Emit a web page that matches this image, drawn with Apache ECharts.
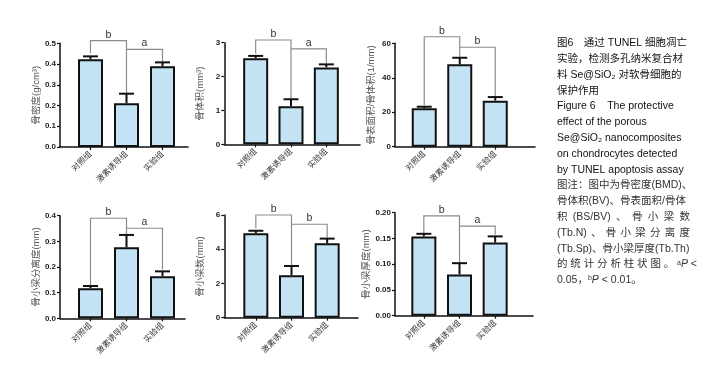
<!DOCTYPE html>
<html>
<head>
<meta charset="utf-8">
<script src="https://cdn.jsdelivr.net/npm/echarts@6/dist/echarts.min.js"></script>
<style>
html, body { margin: 0; padding: 0; background: #fff; }
#chart { width: 723px; height: 369px; }
</style>
</head>
<body>
<div id="chart"></div>
<script>
// 组别
const groups = ["对照组", "激素诱导组", "实验组"];

// 均值与误差
const bmdMean = [0.423, 0.211, 0.389];
const bmdErr = [0.014, 0.046, 0.019];
const bvMean = [2.54, 1.12, 2.27];
const bvErr = [0.07, 0.21, 0.09];
const bsbvMean = [22.3, 47.8, 26.7];
const bsbvErr = [0.9, 3.8, 2.1];
const tbspMean = [0.117, 0.277, 0.164];
const tbspErr = [0.009, 0.048, 0.019];
const tbnMean = [4.93, 2.48, 4.35];
const tbnErr = [0.15, 0.54, 0.27];
const tbthMean = [0.154, 0.080, 0.142];
const tbthErr = [0.005, 0.022, 0.012];

// 显著性标记: [起始组, 结束组, 横线高度, 左竖线下端, 右竖线下端, 字母]
const bmdBrackets = [[0, 1, 0.513, 0.452, 0.257, "b"], [1, 2, 0.471, null, 0.412, "a"]];
const bvBrackets = [[0, 1, 3.08, 2.68, 1.34, "b"], [1, 2, 2.82, null, 2.39, "a"]];
const bsbvBrackets = [[0, 1, 63.8, 24.2, 51.6, "b"], [1, 2, 57.7, null, 29.4, "b"]];
const tbspBrackets = [[0, 1, 0.39, 0.13, 0.325, "b"], [1, 2, 0.351, null, 0.19, "a"]];
const tbnBrackets = [[0, 1, 6.0, 5.22, 3.02, "b"], [1, 2, 5.46, null, 4.67, "b"]];
const tbthBrackets = [[0, 1, 0.194, 0.160, 0.102, "b"], [1, 2, 0.174, null, 0.157, "a"]];

// y轴标题与刻度
const yNames = ["骨密度(g/cm³)", "骨体积(mm³)", "骨表面积/骨体积(1/mm)", "骨小梁分离度(mm)", "骨小梁数(mm)", "骨小梁厚度(mm)"];
const yMaxes = [0.5, 3, 60, 0.4, 6, 0.2];
const yIntervals = [0.1, 1, 20, 0.1, 2, 0.05];
const yDigits = [1, 0, 0, 1, 0, 2];

// 右侧图注文字 (数组 = 两端对齐的行)
const captionLines = [
    "图6　通过 TUNEL 细胞凋亡",
    "实验，检测多孔纳米复合材",
    "料 Se@SiO₂ 对软骨细胞的",
    "保护作用",
    "Figure 6    The protective",
    "effect of the porous",
    "Se@SiO₂ nanocomposites",
    "on chondrocytes detected",
    "by TUNEL apoptosis assay",
    "图注：图中为骨密度(BMD)、",
    "骨体积(BV)、骨表面积/骨体",
    ["积", "(BS/BV)", "、", "骨", "小", "梁", "数"],
    ["(Tb.N)", "、", "骨", "小", "梁", "分", "离", "度"],
    "(Tb.Sp)、骨小梁厚度(Tb.Th)",
    ["的", "统", "计", "分", "析", "柱", "状", "图", "。", "{s|a}{i|P}", "<"],
    "{t|0.05，}{s|b}{i|P}{t| < 0.01。}"
];
// 两端对齐行的右端
const justifyEnd = { 11: 690, 12: 690, 14: 697 };

const means = [bmdMean, bvMean, bsbvMean, tbspMean, tbnMean, tbthMean];
const errs = [bmdErr, bvErr, bsbvErr, tbspErr, tbnErr, tbthErr];
const brackets = [bmdBrackets, bvBrackets, bsbvBrackets, tbspBrackets, tbnBrackets, tbthBrackets];

// 每个小图的版面: y轴位置, 柱区左右, x轴终点, 上下
const layout = [
    { axisX: 60, bandL: 72.5, bandR: 180.5, axisEnd: 188, top: 43.3, bottom: 147 },
    { axisX: 224.3, bandL: 238, bandR: 344, axisEnd: 360, top: 42.7, bottom: 144.3 },
    { axisX: 395, bandL: 406.5, bandR: 513, axisEnd: 535, top: 43.3, bottom: 146.7 },
    { axisX: 60, bandL: 72.5, bandR: 180.5, axisEnd: 185, top: 215.7, bottom: 318.3 },
    { axisX: 224.3, bandL: 238, bandR: 345, axisEnd: 358, top: 215, bottom: 317.7 },
    { axisX: 395, bandL: 406, bandR: 513, axisEnd: 533, top: 212.7, bottom: 315.7 }
];

const FONT = '"Liberation Sans", Arial, "Noto Sans CJK SC", sans-serif';
const CAP_SIZE = 10.5;
const chart = echarts.init(document.getElementById("chart"), null, { renderer: "canvas" });

const grid = [], xAxis = [], yAxis = [], series = [];

layout.forEach((L, k) => {
    const h = L.bottom - L.top;
    // 柱子所在的网格
    grid.push({ left: L.bandL, top: L.top, width: L.bandR - L.bandL, height: h, containLabel: false, outerBoundsMode: "none" });
    // 只画x轴线的网格
    grid.push({ left: L.axisX, top: L.top, width: L.axisEnd - L.axisX, height: h, containLabel: false, outerBoundsMode: "none" });

    xAxis.push({
        type: "category",
        gridIndex: 2 * k,
        data: groups,
        axisLine: { show: false },
        axisTick: { show: true, alignWithLabel: true, length: 3, lineStyle: { color: "#111", width: 1.2 } },
        axisLabel: { rotate: 45, fontSize: 8, color: "#333", margin: 6, fontFamily: FONT, interval: 0 },
        splitLine: { show: false }
    });
    xAxis.push({
        type: "value",
        gridIndex: 2 * k + 1,
        min: 0, max: 1,
        axisLine: { show: true, lineStyle: { color: "#111", width: 1.5 } },
        axisTick: { show: false },
        axisLabel: { show: false },
        splitLine: { show: false }
    });

    const digits = yDigits[k];
    yAxis.push({
        type: "value",
        gridIndex: 2 * k,
        min: 0,
        max: yMaxes[k],
        interval: yIntervals[k],
        offset: L.bandL - L.axisX,
        name: yNames[k],
        nameLocation: "middle",
        nameGap: 19,
        nameTextStyle: { fontSize: 9.5, color: "#555", fontFamily: FONT },
        axisLine: { show: true, lineStyle: { color: "#111", width: 1.5 } },
        axisTick: { show: true, length: 3, lineStyle: { color: "#111", width: 1.2 } },
        axisLabel: {
            fontSize: 8, fontWeight: "bold", color: "#222", margin: 4, fontFamily: FONT,
            formatter: v => v.toFixed(digits)
        },
        splitLine: { show: false }
    });
    yAxis.push({ type: "value", gridIndex: 2 * k + 1, show: false, min: 0, max: 1 });

    series.push({
        type: "bar",
        xAxisIndex: 2 * k,
        yAxisIndex: 2 * k,
        barWidth: 25,
        data: means[k],
        itemStyle: { color: "#c4e4f6", borderColor: "#111", borderWidth: 2 },
        silent: true
    });

    // 误差线 (仅上方)
    series.push({
        type: "custom",
        xAxisIndex: 2 * k,
        yAxisIndex: 2 * k,
        z: 5,
        silent: true,
        data: groups.map((g, i) => [i, means[k][i], errs[k][i]]),
        renderItem: (params, api) => {
            const i = api.value(0), m = api.value(1), e = api.value(2);
            const base = api.coord([i, m]);
            const top = api.coord([i, m + e]);
            return {
                type: "group",
                children: [
                    { type: "line", shape: { x1: base[0], y1: base[1], x2: top[0], y2: top[1] }, style: { stroke: "#111", lineWidth: 2 } },
                    { type: "line", shape: { x1: top[0] - 7.5, y1: top[1], x2: top[0] + 7.5, y2: top[1] }, style: { stroke: "#111", lineWidth: 2 } }
                ]
            };
        }
    });

    // 显著性括号
    const br = brackets[k];
    series.push({
        type: "custom",
        xAxisIndex: 2 * k,
        yAxisIndex: 2 * k,
        z: 4,
        silent: true,
        clip: false,
        data: br.map(b => [b[0], b[2]]),
        renderItem: (params, api) => {
            const b = br[params.dataIndex];
            const pL = api.coord([b[0], b[2]]);
            const pR = api.coord([b[1], b[2]]);
            const pts = [];
            if (b[3] != null) pts.push(api.coord([b[0], b[3]]));
            pts.push(pL, pR, api.coord([b[1], b[4]]));
            return {
                type: "group",
                children: [
                    { type: "polyline", shape: { points: pts }, style: { stroke: "#8c8c8c", lineWidth: 1.2, fill: null } },
                    {
                        type: "text",
                        style: {
                            text: b[5], x: (pL[0] + pR[0]) / 2, y: pL[1] - 0.5,
                            align: "center", verticalAlign: "bottom",
                            fontSize: 10.5, fill: "#333", fontFamily: FONT
                        }
                    }
                ]
            };
        }
    });
});

// 图注
const rich = {
    t: { fontSize: CAP_SIZE, fontFamily: FONT, fill: "#333" },
    s: { fontSize: 7, fontFamily: FONT, fill: "#333", verticalAlign: "top" },
    i: { fontSize: CAP_SIZE, fontFamily: FONT, fontStyle: "italic", fill: "#333" }
};
const measureCtx = document.createElement("canvas").getContext("2d");
function textWidth(str, size, style) {
    measureCtx.font = (style ? style + " " : "") + size + "px " + FONT;
    return measureCtx.measureText(str).width;
}
function tokenWidth(tok) {
    // 富文本片段 {s|a}{i|P}
    const m = tok.match(/\{(\w)\|([^}]*)\}/g);
    if (!m) return textWidth(tok, CAP_SIZE);
    return m.reduce((w, part) => {
        const [, key, txt] = part.match(/\{(\w)\|([^}]*)\}/);
        return w + textWidth(txt, rich[key].fontSize, rich[key].fontStyle);
    }, 0);
}

const CAP_X = 557;
const captionElements = [];
captionLines.forEach((line, i) => {
    const y = 43.3 + i * 15.8;
    const fill = i < 9 ? "#111" : "#333";
    const base = { fill, fontSize: CAP_SIZE, fontFamily: FONT, verticalAlign: "middle", align: "left", rich };
    if (Array.isArray(line)) {
        const widths = line.map(tokenWidth);
        const total = widths.reduce((a, b) => a + b, 0);
        const gap = (justifyEnd[i] - CAP_X - total) / (line.length - 1);
        let x = CAP_X;
        line.forEach((tok, j) => {
            captionElements.push({ type: "text", x, y, silent: true, style: Object.assign({ text: tok }, base) });
            x += widths[j] + gap;
        });
    } else {
        captionElements.push({ type: "text", x: CAP_X, y, silent: true, style: Object.assign({ text: line }, base) });
    }
});

const option = {
    animation: false,
    textStyle: { fontFamily: FONT },
    grid: grid,
    xAxis: xAxis,
    yAxis: yAxis,
    series: series,
    graphic: { elements: captionElements }
};

chart.setOption(option);
</script>
</body>
</html>
